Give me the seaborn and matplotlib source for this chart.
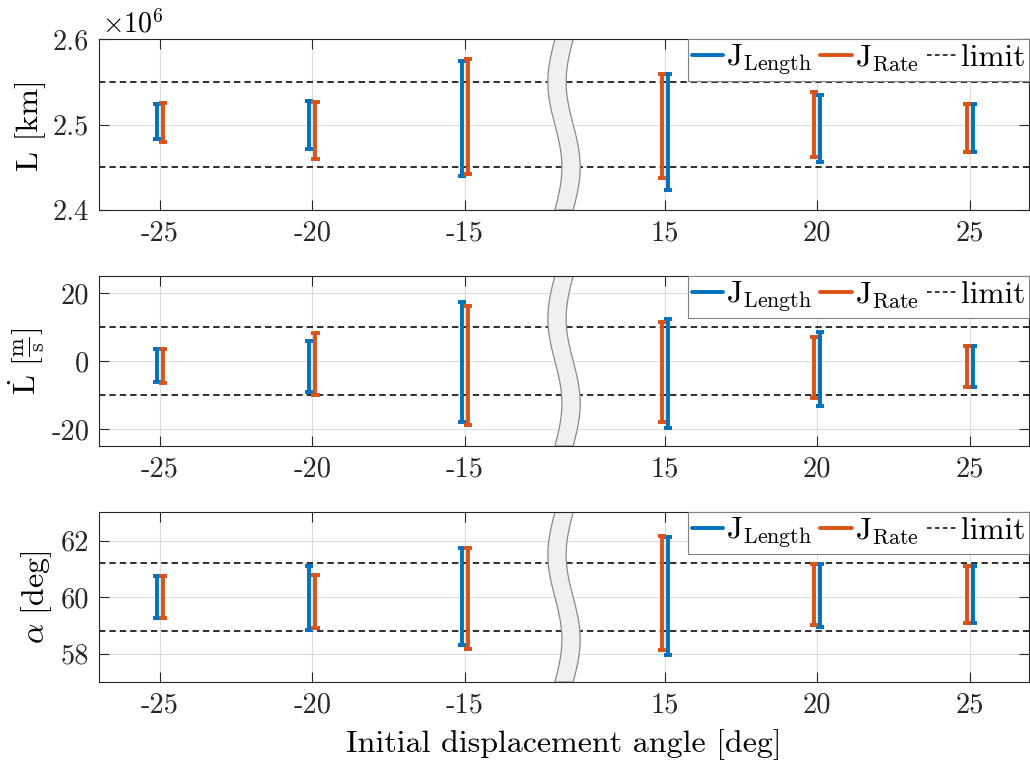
import numpy as np
import pandas as pd
import matplotlib
matplotlib.use("Agg")
import matplotlib.pyplot as plt
from matplotlib.patches import Polygon
from matplotlib.lines import Line2D
import seaborn as sns

# ---- data -------------------------------------------------------------
angles = [-25, -20, -15, 15, 20, 25]
tick_labels = ["-25", "-20", "-15", "15", "20", "25"]
series_names = ["J_Length", "J_Rate"]

# cable length L [km] (x 1e6): min / max per run
L_length_lo = [2.483e6, 2.472e6, 2.440e6, 2.423e6, 2.456e6, 2.468e6]
L_length_hi = [2.524e6, 2.528e6, 2.575e6, 2.559e6, 2.535e6, 2.524e6]
L_rate_lo = [2.480e6, 2.460e6, 2.442e6, 2.437e6, 2.462e6, 2.468e6]
L_rate_hi = [2.525e6, 2.527e6, 2.577e6, 2.559e6, 2.538e6, 2.524e6]
L_limits = [2.45e6, 2.55e6]

# length rate dL/dt [m/s]
Ld_length_lo = [-6.1, -9.0, -17.8, -19.6, -13.1, -7.7]
Ld_length_hi = [3.5, 6.0, 17.2, 12.2, 8.6, 4.3]
Ld_rate_lo = [-6.4, -9.9, -18.7, -17.9, -10.9, -7.7]
Ld_rate_hi = [3.5, 8.3, 16.3, 11.4, 7.0, 4.3]
Ld_limits = [-10.0, 10.0]

# elevation angle alpha [deg]
a_length_lo = [59.25, 58.85, 58.30, 57.94, 58.95, 59.07]
a_length_hi = [60.75, 61.10, 61.74, 62.12, 61.16, 61.09]
a_rate_lo = [59.28, 58.90, 58.16, 58.13, 59.00, 59.07]
a_rate_hi = [60.75, 60.78, 61.74, 62.16, 61.16, 61.09]
a_limits = [58.8, 61.2]

# ---- style ------------------------------------------------------------
sns.set_theme(style="whitegrid")
plt.rcParams.update({
    "font.family": "serif",
    "font.serif": ["cmr10", "DejaVu Serif"],
    "mathtext.fontset": "cm",
    "axes.formatter.use_mathtext": True,
    "axes.edgecolor": "#262626",
    "axes.linewidth": 0.8,
    "grid.color": "#dcdcdc",
    "grid.linewidth": 0.8,
    "xtick.color": "#262626",
    "ytick.color": "#262626",
    "text.color": "black",
    "axes.labelcolor": "black",
})

BLUE = "#0072BD"
ORANGE = "#D95319"
palette = {"J_Length": BLUE, "J_Rate": ORANGE}

SHIFT = 23.45      # compresses the empty span between -15 and 15
OFFSET = 0.1       # side-by-side offset of the two series
XLIM = (-27.0, 3.5)
BREAK_X, BREAK_W, BREAK_A = -12.05, 0.6, 0.23


def axis_pos(a):
    return a if a < 0 else a - SHIFT


def long_frame(len_lo, len_hi, rate_lo, rate_hi):
    rows = []
    for i, a in enumerate(angles):
        s = np.sign(a)
        for name, lo, hi, side in (("J_Length", len_lo, len_hi, 1),
                                   ("J_Rate", rate_lo, rate_hi, -1)):
            x = axis_pos(a) + side * s * OFFSET
            uid = f"{name}_{i}"
            rows.append(dict(x=x, y=lo[i], series=name, bar=uid))
            rows.append(dict(x=x, y=hi[i], series=name, bar=uid))
    return pd.DataFrame(rows)


fig = plt.figure(figsize=(10.30, 7.67), dpi=100)
left, width = 0.0961, 0.903
boxes = [(0.7262, 0.2226), (0.4185, 0.2217), (0.1108, 0.2213)]

panels = [
    dict(data=(L_length_lo, L_length_hi, L_rate_lo, L_rate_hi), lim=L_limits,
         ylim=(2.4e6, 2.6e6), yticks=[2.4e6, 2.5e6, 2.6e6],
         yticklabels=["2.4", "2.5", "2.6"], ylabel="L [km]", pad=5),
    dict(data=(Ld_length_lo, Ld_length_hi, Ld_rate_lo, Ld_rate_hi), lim=Ld_limits,
         ylim=(-25, 25), yticks=[-20, 0, 20],
         yticklabels=["-20", "0", "20"],
         ylabel=r"$\dot{\mathrm{L}}\ [\frac{\mathrm{m}}{\mathrm{s}}]$", pad=3),
    dict(data=(a_length_lo, a_length_hi, a_rate_lo, a_rate_hi), lim=a_limits,
         ylim=(57, 63), yticks=[58, 60, 62],
         yticklabels=["58", "60", "62"], ylabel=r"$\alpha\ [\mathrm{deg}]$",
         pad=5),
]

xticks = [axis_pos(a) for a in angles]

for (bottom, height), p in zip(boxes, panels):
    ax = fig.add_axes([left, bottom, width, height])
    df = long_frame(*p["data"])

    # limit lines
    for v in p["lim"]:
        ax.axhline(v, color="black", lw=1.15, ls=(0, (4, 2.5)), zorder=2)

    # range bars and their end caps
    sns.lineplot(data=df, x="x", y="y", hue="series", units="bar",
                 estimator=None, sort=False, palette=palette,
                 linewidth=2.8, legend=False, ax=ax, zorder=4)
    sns.scatterplot(data=df, x="x", y="y", hue="series", palette=palette,
                    marker="_", s=34, linewidth=2.8, legend=False, ax=ax,
                    zorder=4)

    # axis break band
    t = np.linspace(0, 1, 120)
    yy = 1 - t
    xl = BREAK_X - BREAK_A * np.sin(2 * np.pi * t)
    xr = xl + BREAK_W
    verts = np.vstack([np.column_stack([xl, yy]),
                       np.column_stack([xr[::-1], yy[::-1]])])
    band = Polygon(verts, closed=True, facecolor="#f0f0f0",
                   edgecolor="#8a8a8a", lw=0.9,
                   transform=ax.get_xaxis_transform(), zorder=3)
    ax.add_patch(band)

    ax.set_xlim(*XLIM)
    ax.set_ylim(*p["ylim"])
    ax.set_xticks(xticks)
    ax.set_xticklabels(tick_labels)
    ax.set_yticks(p["yticks"])
    ax.set_yticklabels(p["yticklabels"])
    ax.tick_params(axis="both", which="major", direction="in", length=7,
                   width=0.8, labelsize=20.5, top=True, right=True,
                   left=True, bottom=True, pad=7)
    ax.set_xlabel("")
    ax.set_ylabel(p["ylabel"], fontsize=23, labelpad=p["pad"])
    ax.grid(True, zorder=0)
    ax.set_axisbelow(True)
    for sp in ax.spines.values():
        sp.set_zorder(6)
        sp.set_color("#262626")

    handles = [Line2D([], [], color=BLUE, lw=2.8),
               Line2D([], [], color=ORANGE, lw=2.8),
               Line2D([], [], color="black", lw=1.1, ls=(0, (3, 2.2)))]
    labels = [r"$\mathrm{J}_{\mathrm{Length}}$", r"$\mathrm{J}_{\mathrm{Rate}}$",
              "limit"]
    leg = ax.legend(handles, labels, loc="upper right", bbox_to_anchor=(1, 1),
                    borderaxespad=0, ncol=3, fontsize=22.5, handlelength=1.0,
                    handletextpad=0.1, columnspacing=0.25, borderpad=0.12,
                    fancybox=False, framealpha=1, edgecolor="#808080")
    leg.get_frame().set_linewidth(0.8)
    leg.set_zorder(7)

    if p is panels[0]:
        ax.text(0.003, 1.005, r"$\times10^{6}$", transform=ax.transAxes,
                ha="left", va="bottom", fontsize=20)
    if p is panels[-1]:
        ax.set_xlabel("Initial displacement angle [deg]", fontsize=23,
                      labelpad=8)

fig.savefig("out.png", dpi=100)
